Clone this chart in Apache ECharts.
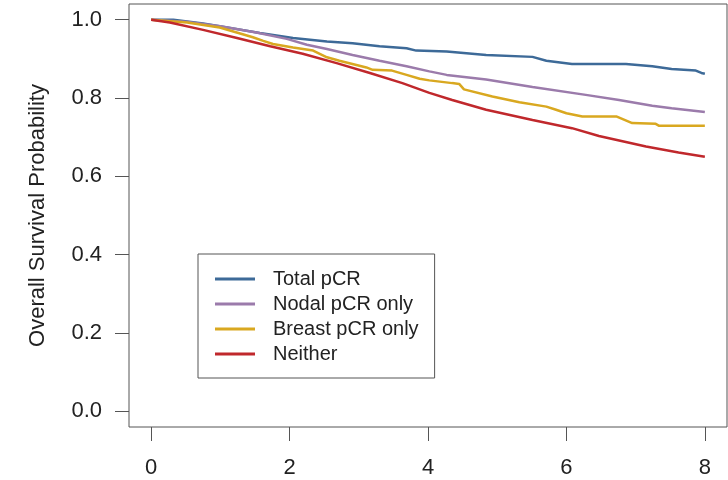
<!DOCTYPE html>
<html>
<head>
<meta charset="utf-8">
<script src="https://cdn.jsdelivr.net/npm/echarts@6/dist/echarts.min.js"></script>
<style>
html,body{margin:0;padding:0;background:#fff;}
#chart{width:728px;height:480px;}
</style>
</head>
<body>
<div id="chart"></div>
<script>
var seriesNames = ['Total pCR', 'Nodal pCR only', 'Breast pCR only', 'Neither'];
var xTicks = [0, 2, 4, 6, 8];
var yTicks = [0, 0.2, 0.4, 0.6, 0.8, 1.0];

var totalPCR = [[0,1.0],[0.32,1.0],[0.75,0.990],[1.14,0.979],[1.57,0.966],[2.05,0.953],[2.54,0.944],[2.91,0.940],[3.30,0.932],[3.69,0.927],[3.83,0.921],[4.27,0.919],[4.84,0.910],[5.51,0.905],[5.71,0.895],[6.08,0.887],[6.86,0.887],[7.24,0.881],[7.52,0.874],[7.87,0.870],[7.95,0.864],[8.0,0.862]];
var nodalPCR = [[0,1.0],[0.5,0.995],[1.0,0.983],[1.5,0.968],[1.96,0.951],[2.25,0.936],[2.54,0.925],[2.91,0.910],[3.30,0.895],[3.69,0.881],[4.02,0.868],[4.27,0.859],[4.84,0.847],[5.51,0.828],[6.28,0.808],[6.76,0.795],[7.24,0.780],[7.52,0.774],[8.0,0.764]];
var breastPCR = [[0,1.0],[0.52,0.993],[0.99,0.980],[1.47,0.955],[1.62,0.946],[1.76,0.938],[2.05,0.929],[2.34,0.921],[2.54,0.904],[2.72,0.895],[3.11,0.878],[3.20,0.872],[3.48,0.870],[3.69,0.859],[3.88,0.849],[4.02,0.845],[4.35,0.838],[4.45,0.836],[4.52,0.822],[4.93,0.804],[5.32,0.789],[5.71,0.778],[5.85,0.770],[6.0,0.761],[6.23,0.753],[6.72,0.753],[6.95,0.736],[7.29,0.734],[7.34,0.729],[8.0,0.729]];
var neither = [[0,1.0],[0.27,0.993],[0.75,0.974],[1.24,0.953],[1.72,0.932],[2.19,0.913],[2.68,0.889],[3.16,0.864],[3.63,0.838],[4.02,0.813],[4.35,0.795],[4.84,0.770],[5.51,0.744],[6.08,0.723],[6.47,0.703],[7.15,0.676],[7.62,0.661],[8.0,0.650]];

var seriesData = [totalPCR, nodalPCR, breastPCR, neither];
var colors = ['#3d6a98', '#9b7bab', '#d9a820', '#c0282c'];
var FONT = "'Liberation Sans', Arial, sans-serif";

var chart = echarts.init(document.getElementById('chart'), null, {renderer: 'canvas'});
chart.setOption({
  animation: false,
  backgroundColor: '#fff',
  grid: {left: 129, top: 4, width: 598, height: 423, show: true, borderColor: '#555', borderWidth: 1, backgroundColor: 'transparent'},
  xAxis: {
    type: 'value', min: -0.32, max: 8.32,
    axisLine: {show: false, onZero: false},
    splitLine: {show: false},
    axisTick: {show: true, inside: false, customValues: xTicks, length: 14, lineStyle: {color: '#555', width: 1}},
    axisLabel: {customValues: xTicks, fontSize: 22, color: '#222', fontFamily: FONT, margin: 30}
  },
  yAxis: {
    type: 'value', min: -0.04, max: 1.04,
    axisLine: {show: false, onZero: false},
    splitLine: {show: false},
    axisTick: {show: true, inside: false, customValues: yTicks, length: 14, lineStyle: {color: '#555', width: 1}},
    axisLabel: {customValues: yTicks, fontSize: 22, color: '#222', fontFamily: FONT, margin: 27,
      formatter: function (v) { return v.toFixed(1); }},
    name: 'Overall Survival Probability', nameLocation: 'middle', nameGap: 80,
    nameTextStyle: {fontSize: 22, color: '#222', fontFamily: FONT}
  },
  legend: {
    data: seriesNames,
    orient: 'vertical', left: 198, top: 254,
    padding: [15, 16, 14, 17],
    icon: 'rect',
    itemWidth: 40, itemHeight: 3, itemGap: 5,
    borderColor: '#555', borderWidth: 1,
    textStyle: {fontSize: 20, color: '#222', fontFamily: FONT, lineHeight: 20, padding: [0, 0, 0, 13]}
  },
  series: seriesNames.map(function (n, i) {
    return {
      name: n, type: 'line', data: seriesData[i], showSymbol: false, symbol: 'none',
      color: colors[i],
      lineStyle: {width: 2.5, color: colors[i]},
      emphasis: {disabled: true}, silent: true
    };
  })
});
</script>
</body>
</html>
